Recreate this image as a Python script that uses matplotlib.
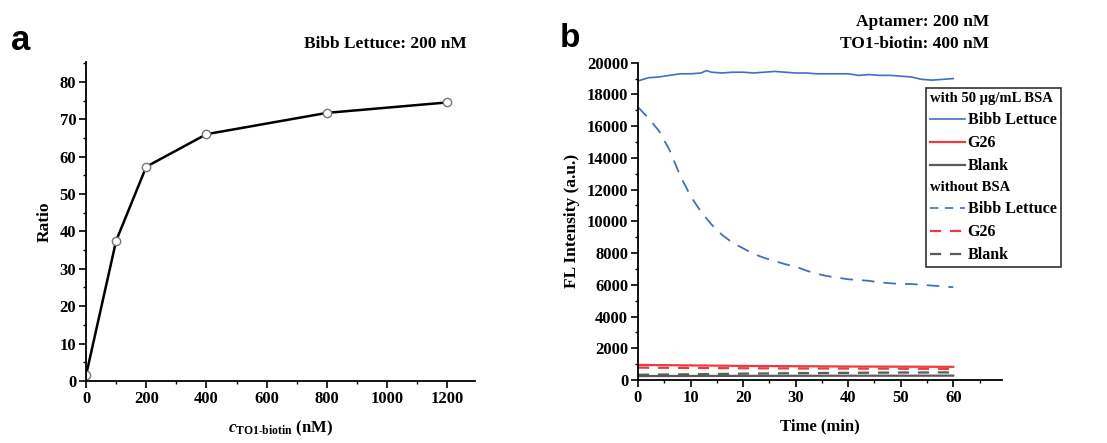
import matplotlib.pyplot as plt
from matplotlib.lines import Line2D
from matplotlib.ticker import MultipleLocator

plt.rcParams['font.family'] = ['Liberation Serif', 'DejaVu Serif']
plt.rcParams['font.weight'] = 'bold'
plt.rcParams['axes.labelweight'] = 'bold'
plt.rcParams['mathtext.fontset'] = 'custom'
plt.rcParams['mathtext.rm'] = 'Liberation Serif:bold'
plt.rcParams['mathtext.it'] = 'Liberation Serif:italic:bold'

# panel a: ratio vs TO1-biotin concentration
conc = [0, 100, 200, 400, 800, 1200]
ratio = [1.5, 37.5, 57.3, 66.0, 71.7, 74.5]

# panel b: fluorescence over time
t_bsa = [0, 1, 2, 4, 6, 8, 10, 12, 13, 14, 16, 18, 20, 22, 24, 26, 28, 30,
         32, 34, 36, 38, 40, 42, 44, 46, 48, 50, 52, 54, 56, 58, 60]
bl_bsa = [18850, 18950, 19050, 19100, 19200, 19300, 19300, 19350, 19500, 19400,
          19350, 19400, 19400, 19350, 19400, 19450, 19400, 19350, 19350, 19300,
          19300, 19300, 19300, 19200, 19250, 19200, 19200, 19150, 19100, 18950,
          18900, 18950, 19000]

t_nobsa = [0, 2, 4, 6, 8, 10, 12, 14, 16, 18, 20, 22, 24, 26, 28, 30, 32, 34,
           36, 38, 40, 42, 44, 46, 48, 50, 52, 54, 56, 58, 60]
bl_nobsa = [17200, 16500, 15700, 14500, 12900, 11600, 10600, 9800, 9150, 8650,
            8300, 7950, 7700, 7500, 7300, 7150, 6900, 6700, 6550, 6450, 6350,
            6300, 6250, 6150, 6100, 6050, 6050, 6000, 5950, 5900, 5850]

t_low = [0, 10, 20, 30, 40, 50, 60]
g26_bsa = [950, 920, 890, 870, 850, 840, 830]
g26_nobsa = [780, 760, 740, 730, 720, 710, 700]
blank_bsa = [250, 255, 260, 265, 270, 270, 275]
blank_nobsa = [330, 360, 400, 430, 450, 470, 480]

fig = plt.figure(figsize=(11.07, 4.43), dpi=100)

# ---- panel a
ax1 = fig.add_axes([0.0777, 0.140, 0.351, 0.720])
ax1.plot(conc, ratio, color='black', lw=1.8, marker='o', ms=6,
         mfc='white', mec='#777777', mew=1.0)
ax1.set_xlim(0, 1290)
ax1.set_ylim(0, 85.3)
ax1.xaxis.set_major_locator(MultipleLocator(200))
ax1.xaxis.set_minor_locator(MultipleLocator(100))
ax1.yaxis.set_major_locator(MultipleLocator(10))
ax1.yaxis.set_minor_locator(MultipleLocator(5))
ax1.set_ylabel('Ratio', fontsize=12.5, labelpad=5)
ax1.set_xlabel(r'$c_{\mathrm{TO1\text{-}biotin}}$ (nM)', fontsize=12, labelpad=9)
ax1.text(0.979, 1.056, 'Bibb Lettuce: 200 nM', transform=ax1.transAxes,
         ha='right', va='center', fontsize=12.5)
fig.text(0.010, 0.908, 'a', family='Liberation Sans', fontsize=25,
         weight='bold', va='center')

# ---- panel b
ax2 = fig.add_axes([0.5763, 0.1422, 0.3285, 0.7163])
blue, red, gray = '#3f6fc8', '#ec3b40', '#5a5a5a'
ax2.plot(t_bsa, bl_bsa, color=blue, lw=1.2)
ax2.plot(t_low, g26_bsa, color=red, lw=1.6)
ax2.plot(t_low, blank_bsa, color=gray, lw=1.6)
ax2.plot(t_nobsa, bl_nobsa, color=blue, lw=1.3, dashes=(7, 5))
ax2.plot(t_low, g26_nobsa, color=red, lw=1.6, dashes=(5, 4))
ax2.plot(t_low, blank_nobsa, color=gray, lw=1.6, dashes=(5, 4))
ax2.set_xlim(0, 69.2)
ax2.set_ylim(0, 20000)
ax2.xaxis.set_major_locator(MultipleLocator(10))
ax2.xaxis.set_minor_locator(MultipleLocator(5))
ax2.yaxis.set_major_locator(MultipleLocator(2000))
ax2.yaxis.set_minor_locator(MultipleLocator(1000))
ax2.set_ylabel('FL Intensity (a.u.)', fontsize=12.5, labelpad=5)
ax2.set_xlabel('Time (min)', fontsize=12, labelpad=9)
ax2.text(0.965, 1.128, 'Aptamer: 200 nM', transform=ax2.transAxes,
         ha='right', va='center', fontsize=12.5)
ax2.text(0.965, 1.059, 'TO1-biotin: 400 nM', transform=ax2.transAxes,
         ha='right', va='center', fontsize=12.5)
fig.text(0.506, 0.912, 'b', family='Liberation Sans', fontsize=24,
         weight='bold', va='center')

blank = Line2D([], [], linestyle='none')
handles = [blank,
           Line2D([], [], color=blue, lw=1.2),
           Line2D([], [], color=red, lw=1.6),
           Line2D([], [], color=gray, lw=1.6),
           blank,
           Line2D([], [], color=blue, lw=1.2, dashes=(5, 4)),
           Line2D([], [], color=red, lw=1.6, dashes=(5, 4)),
           Line2D([], [], color=gray, lw=1.6, dashes=(5, 4))]
labels = ['with 50 \u00b5g/mL BSA', 'Bibb Lettuce', 'G26', 'Blank',
          'without BSA', 'Bibb Lettuce', 'G26', 'Blank']
leg = fig.legend(handles, labels, loc='upper right',
                 bbox_to_anchor=(0.958, 0.801), fontsize=11.5,
                 handlelength=2.2, handletextpad=0.15, labelspacing=0.44,
                 borderpad=0.25, borderaxespad=0, fancybox=False,
                 framealpha=1, edgecolor='#333333')
leg.get_frame().set_linewidth(1.2)
# section headers sit flush left, without a handle
rows = leg._legend_handle_box.get_children()[0].get_children()
for i in (0, 4):
    rows[i]._children = [rows[i].get_children()[1]]
    leg.get_texts()[i].set_fontsize(10.5)

for ax in (ax1, ax2):
    for side in ('top', 'right'):
        ax.spines[side].set_visible(False)
    for side in ('left', 'bottom'):
        ax.spines[side].set_linewidth(1.3)
    ax.tick_params(which='major', direction='out', length=5, width=1.2,
                   labelsize=12, pad=2)
    ax.tick_params(which='minor', direction='out', length=2.5, width=1.0)

fig.savefig('out.png', dpi=100)
